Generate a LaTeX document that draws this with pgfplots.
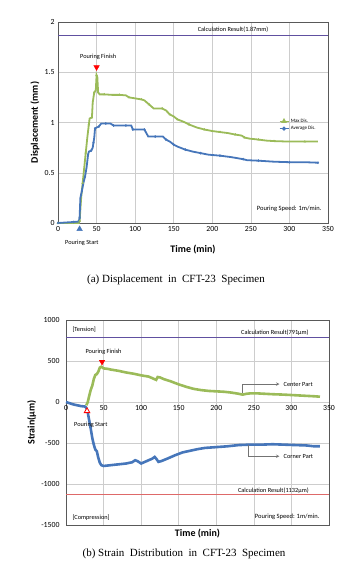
\documentclass[border=0pt]{standalone}
\usepackage{fontspec}
\setmainfont{Carlito}
\newfontfamily\capfont{Liberation Serif}
\usepackage{pgfplots}
\pgfplotsset{compat=1.18}
\definecolor{cgreen}{RGB}{155,187,89}
\definecolor{cblue}{RGB}{70,118,186}
\definecolor{cpurple}{RGB}{96,80,160}
\definecolor{cred}{RGB}{222,105,105}
\definecolor{cgrid}{RGB}{205,205,205}
\begin{document}
\begin{tikzpicture}
\path[use as bounding box] (0pt,0pt) rectangle (354pt,-568pt);
% ---------------- (a) displacement ----------------
\begin{axis}[
  at={(58pt,-223pt)}, anchor=south west,
  scale only axis, width=270pt, height=201pt,
  xmin=0, xmax=350, ymin=0, ymax=2,
  xtick={0,50,...,350}, ytick={0,0.5,1,1.5,2},
  grid=major, grid style={cgrid, line width=0.5pt},
  axis line style={black!65, line width=0.6pt},
  tick style={draw=none},
  ticklabel style={font=\fontsize{7.8}{8}\selectfont},
  /pgf/number format/assume math mode=true,
  /pgf/number format/1000 sep={},
  xlabel={Time (min)}, ylabel={Displacement (mm)},
  xlabel style={font=\fontsize{10}{12}\selectfont\bfseries, at={(axis description cs:0.5,-0.134)}, anchor=center},
  ylabel style={font=\fontsize{10}{12}\selectfont\bfseries, at={(axis description cs:-0.085,0.5)}, anchor=center},
  clip=false,
  legend style={at={(0.815,0.535)}, anchor=north west, draw=none, fill=none,
    font=\fontsize{5}{5.5}\selectfont, row sep=-1.5pt, inner sep=1pt},
  legend cell align=left,
]
\addplot[cgreen, line width=1.8pt, mark=triangle*, mark repeat=2, mark size=1.2pt, mark options={line width=0.3pt},
  legend image code/.code={\draw[cgreen, line width=0.5pt] (0pt,0pt)--(9pt,0pt); \fill[cgreen] (4.5pt,1.3pt)--(3.2pt,-0.9pt)--(5.8pt,-0.9pt)--cycle;}] coordinates {
(0,0) (10,0) (20,0) (27,0) (28,0.02) (30,0.25) (32,0.4) (34,0.55) (36,0.7) (38,0.85) (40,0.98) (41,1.04) (44,1.05) (45,1.2) (47,1.3) (49,1.32) (50,1.47) (51,1.45) (52,1.3) (54,1.28) (60,1.28) (70,1.275) (80,1.275) (88,1.27) (92,1.25) (100,1.24) (108,1.23) (112,1.22) (118,1.18) (124,1.14) (135,1.14) (140,1.12) (145,1.08) (150,1.06) (155,1.03) (162,1.01) (170,0.98) (180,0.95) (190,0.93) (200,0.915) (210,0.905) (220,0.895) (230,0.88) (238,0.87) (242,0.85) (248,0.84) (260,0.83) (270,0.82) (280,0.815) (300,0.81) (320,0.81) (337,0.81)
};
\addlegendentry{Max Dis.}
\addplot[cblue, line width=1.8pt, mark=diamond*, mark repeat=2, mark size=1.2pt, mark options={line width=0.3pt},
  legend image code/.code={\draw[cblue, line width=0.5pt] (0pt,0pt)--(9pt,0pt); \fill[cblue] (4.5pt,1pt)--(5.5pt,0pt)--(4.5pt,-1pt)--(3.5pt,0pt)--cycle;}] coordinates {
(0,0) (10,0.005) (20,0.01) (27,0.015) (28,0.05) (29,0.25) (31,0.32) (33,0.4) (35,0.46) (37,0.55) (39,0.68) (40,0.71) (43,0.72) (45,0.75) (46,0.8) (47,0.85) (48,0.94) (50,0.95) (53,0.96) (56,0.99) (62,0.99) (68,0.99) (72,0.97) (80,0.97) (88,0.97) (95,0.97) (97,0.93) (104,0.93) (112,0.93) (117,0.86) (126,0.86) (136,0.86) (140,0.83) (145,0.81) (150,0.78) (155,0.76) (165,0.73) (175,0.71) (185,0.695) (195,0.68) (210,0.67) (225,0.655) (240,0.635) (245,0.625) (260,0.62) (280,0.61) (300,0.605) (320,0.605) (337,0.60)
};
\addlegendentry{Average Dis.}
\addplot[cpurple, line width=0.9pt, forget plot] coordinates {(0,1.87) (350,1.87)};
\addplot[only marks, forget plot, mark=triangle*, mark size=3.2pt, mark options={fill=red, draw=red, rotate=180}] coordinates {(50,1.55)};
\addplot[only marks, forget plot, mark=triangle*, mark size=3.2pt, mark options={fill=cblue, draw=cblue}] coordinates {(28,-0.06)};
\node[font=\fontsize{6.3}{7}\selectfont] at (axis cs:52,1.655) {Pouring Finish};
\node[font=\fontsize{6.3}{7}\selectfont] at (axis cs:31,-0.2) {Pouring Start};
\node[font=\fontsize{6.3}{7}\selectfont] at (axis cs:227,1.92) {Calculation Result(1.87mm)};
\node[font=\fontsize{6.5}{7}\selectfont, anchor=east] at (axis cs:346,0.14) {Pouring Speed: 1m/min.};
\end{axis}
% ---------------- (b) strain ----------------
\begin{axis}[
  at={(66pt,-525pt)}, anchor=south west,
  scale only axis, width=263pt, height=205pt,
  xmin=0, xmax=350, ymin=-1500, ymax=1000,
  xtick={0,50,...,350}, ytick={-1500,-1000,-500,0,500,1000},
  grid=major, grid style={cgrid, line width=0.5pt},
  axis line style={black!65, line width=0.6pt},
  tick style={draw=none},
  ticklabel style={font=\fontsize{7.8}{8}\selectfont},
  xticklabel style={yshift=122.7pt},
  yticklabel style={xshift=-3pt},
  /pgf/number format/assume math mode=true,
  /pgf/number format/1000 sep={},
  xlabel={Time (min)}, ylabel={Strain(μm)},
  xlabel style={font=\fontsize{10}{12}\selectfont\bfseries, at={(axis description cs:0.5,0)}, anchor=north, yshift=-1pt},
  ylabel style={font=\fontsize{10}{12}\selectfont\bfseries, at={(axis description cs:-0.13,0.5)}, anchor=center},
  clip=false,
]
\addplot[cgreen, line width=2.6pt] coordinates {
(27,-40) (29,0) (31,80) (33,150) (35,200) (37,280) (39,330) (41,340) (43,370) (45,420) (47,430) (50,410) (55,405) (60,395) (70,380) (80,360) (90,345) (100,325) (110,310) (115,290) (120,270) (122,305) (125,300) (130,280) (140,250) (150,215) (160,185) (170,160) (180,145) (190,135) (200,130) (210,125) (220,115) (230,100) (235,90) (240,100) (245,105) (255,105) (265,100) (275,95) (290,90) (300,85) (310,80) (320,75) (330,70) (338,65)
};
\addplot[cblue, line width=2.6pt] coordinates {
(0,0) (5,-15) (10,-30) (15,-40) (20,-50) (25,-55) (27,-70) (29,-130) (31,-230) (33,-330) (35,-440) (37,-520) (39,-580) (41,-600) (43,-680) (45,-740) (47,-770) (50,-780) (55,-775) (60,-770) (70,-760) (80,-750) (88,-735) (92,-710) (95,-720) (100,-750) (105,-730) (110,-710) (115,-690) (118,-670) (120,-690) (123,-730) (127,-720) (135,-690) (145,-650) (155,-615) (165,-595) (175,-575) (185,-560) (200,-550) (215,-540) (230,-525) (245,-520) (260,-520) (275,-515) (290,-520) (305,-525) (320,-530) (330,-540) (338,-540)
};
\addplot[cpurple, line width=0.9pt] coordinates {(0,791) (350,791)};
\addplot[cred, line width=0.9pt] coordinates {(0,-1132) (350,-1132)};
\addplot[only marks, mark=triangle*, mark size=3.2pt, mark options={fill=red, draw=red, rotate=180}] coordinates {(48,490)};
\addplot[only marks, mark=triangle*, mark size=3.2pt, mark options={fill=white, draw=red, line width=0.8pt}] coordinates {(28,-110)};
\node[font=\fontsize{6.3}{7}\selectfont] at (axis cs:50,615) {Pouring Finish};
\node[font=\fontsize{6.3}{7}\selectfont] at (axis cs:33,-275) {Pouring Start};
\node[font=\fontsize{6.3}{7}\selectfont] at (axis cs:278,850) {Calculation Result(791μm)};
\node[font=\fontsize{6.3}{7}\selectfont] at (axis cs:276,-1086) {Calculation Result(1132μm)};
\node[font=\fontsize{6.3}{7}\selectfont, anchor=west] at (axis cs:4,878) {[Tension]};
\node[font=\fontsize{6.3}{7}\selectfont, anchor=west] at (axis cs:4,-1406) {[Compression]};
\node[font=\fontsize{6.5}{7}\selectfont, anchor=east] at (axis cs:342,-1406) {Pouring Speed: 1m/min.};
\draw[black!55, line width=0.5pt, ->, >=stealth] (axis cs:234,109) -- (axis cs:234,219) -- (axis cs:284,219);
\node[font=\fontsize{6.3}{7}\selectfont, anchor=west] at (axis cs:285,219) {Center Part};
\draw[black!55, line width=0.5pt, ->, >=stealth] (axis cs:243,-519) -- (axis cs:243,-661) -- (axis cs:284,-661);
\node[font=\fontsize{6.3}{7}\selectfont, anchor=west] at (axis cs:285,-661) {Corner Part};
\end{axis}
\node[font=\capfont\fontsize{11}{12}\selectfont] at (176pt,-280pt) {(a)\ Displacement\ \ in\ \ CFT-23\ \ Specimen};
\node[font=\capfont\fontsize{11}{12}\selectfont] at (184pt,-554pt) {(b)\ Strain\ \ Distribution\ \ in\ \ CFT-23\ \ Specimen};
\end{tikzpicture}
\end{document}
